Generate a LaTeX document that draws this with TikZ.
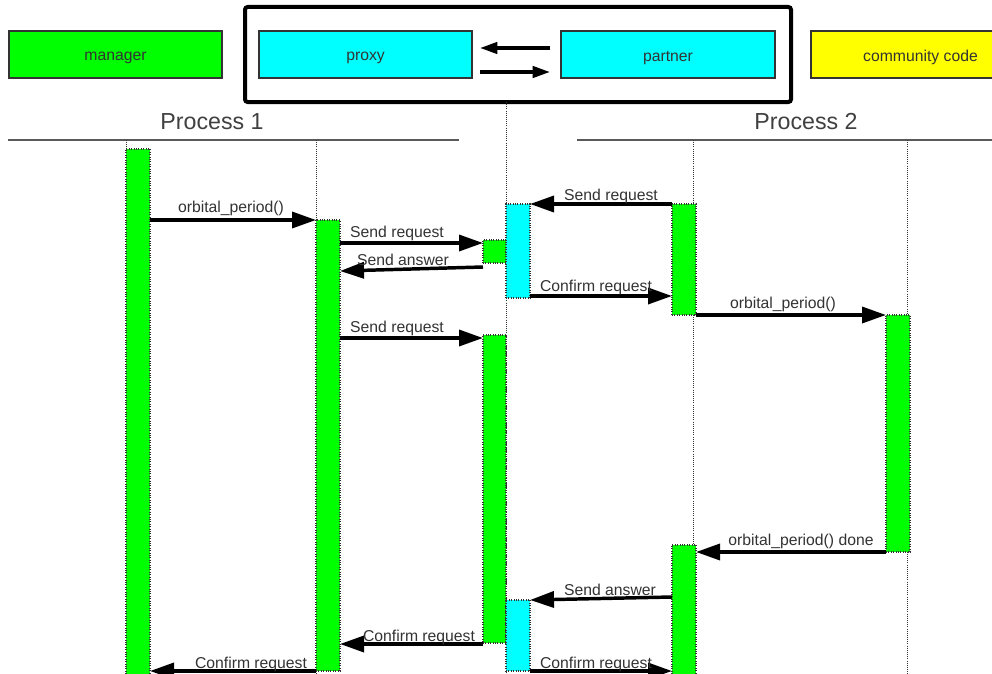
\documentclass[tikz,border=0pt]{standalone}
\usepackage{fontspec}
\setmainfont{Liberation Sans}
\usetikzlibrary{arrows.meta}
\definecolor{grn}{HTML}{00FF00}
\definecolor{cyn}{HTML}{00FFFF}
\definecolor{ylw}{HTML}{FFFF00}
\definecolor{txt}{HTML}{333333}
\definecolor{edge}{HTML}{333333}
\newcommand{\actbox}[6]{\node[actbar,fill=#6,minimum width={(#4-#2)*0.75pt},minimum height={(#5-#3)*0.75pt},anchor=north west] (#1) at (#2,#3) {};}
\newcommand{\legbox}[7]{\node[legbar,fill=#6,minimum width={(#4-#2)*0.75pt},minimum height={(#5-#3)*0.75pt},anchor=north west,label={[legtxt]center:#7}] (#1) at (#2,#3) {};}
\tikzset{
  actbar/.style={draw=edge,densely dotted,line width=0.8pt,inner sep=0pt,outer sep=0pt},
  legbar/.style={draw=edge,line width=0.8pt,inner sep=0pt,outer sep=0pt},
  legtxt/.style={text=txt,font=\fontsize{11.8pt}{13pt}\selectfont,inner sep=0pt,yshift=-2.3pt},
  msg/.style={line width=2.6pt,-{Triangle[length=18pt,width=12pt]}},
  legmsg/.style={line width=2.5pt,-{Triangle[length=13pt,width=8.5pt]}},
  lbl/.style={text=txt,font=\fontsize{11.8pt}{13pt}\selectfont,inner sep=0pt},
  proc/.style={text=black!75,font=\fontsize{17.4pt}{20pt}\selectfont,inner sep=0pt},
  life/.style={draw=black!80,densely dotted,line width=0.6pt},
  sep/.style={draw=black!65,line width=0.8pt}
}
\begin{document}
\begin{tikzpicture}[x=0.75pt,y=-0.75pt]
\useasboundingbox (0,0) rectangle (992,674);
\clip (0,0) rectangle (992,674);
\fill[white] (0,0) rectangle (992,674);
% legend
\legbox{lmgr}{9}{31}{222}{78}{grn}{manager}
\legbox{lprx}{259}{31}{472}{78}{cyn}{proxy}
\legbox{lprt}{561}{31}{775}{78}{cyn}{partner}
\legbox{lcc}{811}{31}{1030}{78}{ylw}{community code}
\draw[line width=3pt,rounded corners=2pt] (245,7) rectangle (791,102);
\coordinate (fb) at (506,102);
\coordinate (la1) at (550,48);
\coordinate (la2) at (480,48);
\coordinate (lb1) at (480,72);
\coordinate (lb2) at (550,72);
\draw[legmsg] (la1) -- (la2);
\draw[legmsg] (lb1) -- (lb2);
% process headings
\node[proc] (p1) at (212,122) {Process 1};
\node[proc] (p2) at (806,122) {Process 2};
\coordinate (s1a) at (8,140);
\coordinate (s1b) at (459,140);
\coordinate (s2a) at (577,140);
\coordinate (s2b) at (992,140);
\draw[sep] (s1a) -- (s1b);
\draw[sep] (s2a) -- (s2b);
% lifelines
\coordinate (l1t) at (126,140); \coordinate (l1b) at (126,674);
\coordinate (l2t) at (316,140); \coordinate (l2b) at (316,674);
\coordinate (l3b) at (506,674);
\coordinate (l4t) at (693,140); \coordinate (l4b) at (693,674);
\coordinate (l5t) at (907,140); \coordinate (l5b) at (907,674);
\draw[life] (l1t) -- (l1b);
\draw[life] (l2t) -- (l2b);
\draw[life] (fb) -- (l3b);
\draw[life] (l4t) -- (l4b);
\draw[life] (l5t) -- (l5b);
% activation bars
\actbox{mA}{126}{149}{150}{676}{grn}
\actbox{pA}{316}{220}{340}{671}{grn}
\actbox{xA}{483}{240}{506}{263}{grn}
\actbox{cA}{506}{204}{530}{298}{cyn}
\actbox{tA}{672}{204}{696}{315}{grn}
\actbox{kA}{886}{315}{910}{552}{grn}
\actbox{xB}{483}{335}{506}{643}{grn}
\actbox{tB}{672}{545}{696}{676}{grn}
\actbox{cB}{506}{600}{530}{671}{cyn}
% messages
\draw[msg] (mA.east |- 0,220) -- (pA.west |- 0,220);
\node[lbl] (t1) at (231,208) {orbital\_period()};
\draw[msg] (pA.east |- 0,243) -- (xA.west |- 0,243);
\node[lbl] (t2) at (397,233) {Send request};
\draw[msg] (xA.west |- 0,267) -- (pA.east |- 0,271);
\node[lbl] (t3) at (403,260) {Send answer};
\draw[msg] (tA.west |- 0,204) -- (cA.east |- 0,204);
\node[lbl] (t4) at (611,196) {Send request};
\draw[msg] (cA.east |- 0,296) -- (tA.west |- 0,296);
\node[lbl] (t5) at (596,287) {Confirm request};
\draw[msg] (tA.east |- 0,315) -- (kA.west |- 0,315);
\node[lbl] (t6) at (783,304) {orbital\_period()};
\draw[msg] (pA.east |- 0,338) -- (xB.west |- 0,338);
\node[lbl] (t7) at (397,328) {Send request};
\draw[msg] (kA.west |- 0,552) -- (tB.east |- 0,552);
\node[lbl] (t8) at (801,541) {orbital\_period() done};
\draw[msg] (tB.west |- 0,597) -- (cB.east |- 0,600);
\node[lbl] (t9) at (610,590) {Send answer};
\draw[msg] (xB.west |- 0,644) -- (pA.east |- 0,644);
\node[lbl] (t10) at (419,637) {Confirm request};
\draw[msg] (pA.west |- 0,671) -- (mA.east |- 0,671);
\node[lbl] (t11) at (251,664) {Confirm request};
\draw[msg] (cB.east |- 0,671) -- (tB.west |- 0,671);
\node[lbl] (t12) at (596,664) {Confirm request};
\end{tikzpicture}
\end{document}
